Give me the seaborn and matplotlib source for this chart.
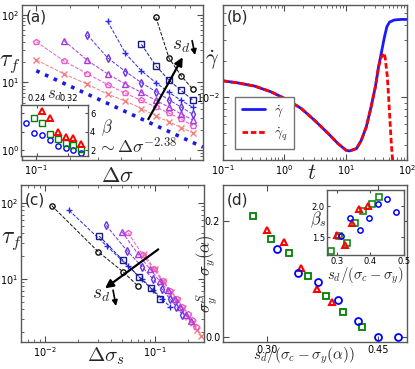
import numpy as np
import pandas as pd
import seaborn as sns
import matplotlib.pyplot as plt
from matplotlib.ticker import MultipleLocator, FormatStrFormatter, NullFormatter

# ---------------- data ----------------
# (a) stress distance from yield, and failure time for each s_d
dsigma = [0.10, 0.12, 0.14, 0.16, 0.18, 0.20, 0.22, 0.24, 0.26, 0.28]

tau_x = [21.5, 13.4, 9.4, 6.7, 5.3, 4.1, 3.2, 2.6, 2.15, 1.8]
tau_pent = [40.0, 20.8, 13.4, 9.3, 6.9, 5.4, 4.3, 3.5, 2.85, 2.3]
tau_tri = [41.6, 21.2, 13.4, 9.4, 7.1, 5.4, 4.3, 3.4, 2.8]
tau_diam = [50.5, 23.1, 14.5, 9.9, 7.3, 5.5, 4.3, 3.4]
tau_plus = [80.0, 26.9, 14.8, 9.9, 7.1, 5.4, 4.3]
tau_sq = [36.6, 17.6, 10.7, 7.6, 5.5]
tau_circ = [92.0, 22.7, 12.5, 8.0]

# (c) same failure times against distance to sigma_y^S
dss_x = [0.079, 0.099, 0.119, 0.139, 0.159, 0.179, 0.199, 0.219, 0.239, 0.259]
dss_pent = [0.057, 0.077, 0.097, 0.117, 0.137, 0.157, 0.177, 0.197, 0.217, 0.237]
dss_tri = [0.050, 0.070, 0.090, 0.110, 0.130, 0.150, 0.170, 0.190, 0.210]
dss_diam = [0.036, 0.056, 0.076, 0.096, 0.116, 0.136, 0.156, 0.176]
dss_plus = [0.0165, 0.0365, 0.0565, 0.0765, 0.0965, 0.1165, 0.1365]
dss_sq = [0.031, 0.051, 0.071, 0.091, 0.111]
dss_circ = [0.0115, 0.0305, 0.0508, 0.0704]

series_markers = ['x', 'p', '^', 'd', '+', 's', 'o']
series_colors = ['#f57f7f', '#ee5ac8', '#a83ae0', '#6a32e6', '#2828f0', '#1c1c88', '#111111']
taus = [tau_x, tau_pent, tau_tri, tau_diam, tau_plus, tau_sq, tau_circ]
dss = [dss_x, dss_pent, dss_tri, dss_diam, dss_plus, dss_sq, dss_circ]

# power law guide
fit_dsigma = [0.100, 0.30]
fit_tau = [14.9, 1.10]

# (a) inset: beta vs s_d
ins_sd_circ = [0.213, 0.233, 0.253, 0.273, 0.293, 0.313, 0.333, 0.353]
ins_beta_circ = [5.0, 3.9, 3.7, 3.1, 2.5, 2.25, 2.0, 1.75]
ins_sd_sq = [0.233, 0.253, 0.273, 0.293, 0.313, 0.333, 0.353]
ins_beta_sq = [5.55, 4.95, 3.8, 3.25, 2.85, 2.55, 2.15]
ins_sd_tri = [0.253, 0.273, 0.293, 0.313, 0.333, 0.353]
ins_beta_tri = [6.25, 5.45, 4.0, 3.5, 3.3, 2.7]

# (b) strain rate vs time
t_vals = [0.1, 0.175, 0.33, 0.61, 1.07, 1.89, 3.1, 5.2, 7.5, 10.2, 11.6, 15, 18,
          21.7, 26, 30.5, 34.4, 38, 43, 47, 52, 62, 80, 100]
gdot = [0.01368, 0.01315, 0.01236, 0.01107, 0.00962, 0.00805, 0.00643, 0.00498,
        0.00411, 0.00361, 0.00357, 0.00373, 0.00438, 0.00566, 0.00830, 0.01219,
        0.0179, 0.0231, 0.0319, 0.0386, 0.0422, 0.0439, 0.0444, 0.0444]
t_q = [0.1, 0.175, 0.33, 0.61, 1.07, 1.89, 3.1, 5.2, 7.5, 10.2, 11.6, 15, 18,
       21.7, 26, 30.5, 34.4, 38, 41, 42.2, 44, 47.8, 50.5, 53.5, 55.5, 57.7, 60]
gdot_q = [0.01368, 0.01315, 0.01236, 0.01107, 0.00962, 0.00805, 0.00643, 0.00498,
          0.00411, 0.00361, 0.00357, 0.00373, 0.00438, 0.00566, 0.00830, 0.01219,
          0.0179, 0.0215, 0.0226, 0.0233, 0.0215, 0.0148, 0.00944, 0.00566,
          0.00411, 0.00318, 0.0025]

# (d) sigma_y^S - sigma_y vs normalised s_d
d_x_sq = [0.2815, 0.3054, 0.3301, 0.355, 0.3793, 0.4031, 0.428]
d_y_sq = [0.209, 0.169, 0.144, 0.105, 0.071, 0.043, 0.0175]
d_x_tri = [0.3004, 0.323, 0.3459, 0.3672, 0.3882]
d_y_tri = [0.184, 0.163, 0.119, 0.0825, 0.060]
d_x_circ = [0.3131, 0.3415, 0.3685, 0.3955, 0.4234, 0.4504, 0.4774]
d_y_circ = [0.152, 0.1095, 0.095, 0.064, 0.027, 0.0, 0.0]

# (d) inset: beta_s
din_x_sq = [0.283, 0.306, 0.330, 0.355, 0.379, 0.405, 0.426]
din_b_sq = [1.28, 1.52, 1.40, 1.73, 1.92, 2.03, 2.15]
din_x_tri = [0.300, 0.325, 0.345, 0.367, 0.392]
din_b_tri = [1.54, 1.37, 1.73, 1.95, 2.00]
din_x_circ = [0.313, 0.340, 0.370, 0.395, 0.424, 0.451, 0.477]
din_b_circ = [1.52, 1.80, 1.61, 1.80, 2.04, 2.12, 1.91]

# ---------------- style ----------------
sns.set_style("ticks")
plt.rcParams.update({
    'font.family': ['DejaVu Sans'],
    'mathtext.fontset': 'cm',
    'xtick.direction': 'in', 'ytick.direction': 'in',
    'xtick.top': True, 'ytick.right': True,
    'xtick.major.size': 4, 'ytick.major.size': 4,
    'xtick.minor.size': 2, 'ytick.minor.size': 2,
    'xtick.color': '0.3', 'ytick.color': '0.3',
    'xtick.labelcolor': 'black', 'ytick.labelcolor': 'black',
    'axes.edgecolor': '0.35', 'axes.linewidth': 1.0,
    'xtick.labelsize': 7, 'ytick.labelsize': 7,
    'xtick.major.pad': 2.5, 'ytick.major.pad': 2,
})


def pts(ax, x, y, color, marker, ls='--', ms=3.8, mew=1.0, lw=0.7, fill=False):
    sns.lineplot(x=x, y=y, ax=ax, color=color, marker=marker, linestyle=ls,
                 lw=lw, markersize=ms, mec=color, mew=mew,
                 mfc=color if fill else 'none')


def log_axes(ax):
    ax.set_xscale('log')
    ax.set_yscale('log')
    ax.xaxis.set_minor_formatter(NullFormatter())
    ax.yaxis.set_minor_formatter(NullFormatter())


fig = plt.figure(figsize=(4.15, 3.69), dpi=100)
ax_a = fig.add_axes([0.053, 0.5664, 0.4361, 0.42])
ax_b = fig.add_axes([0.5373, 0.5664, 0.4434, 0.42])
ax_c = fig.add_axes([0.0506, 0.0732, 0.441, 0.4255])
ax_d = fig.add_axes([0.5373, 0.0732, 0.4434, 0.4255])

# ---- (a) ----
log_axes(ax_a)
for tau, mk, col in zip(taus, series_markers, series_colors):
    pts(ax_a, dsigma[-len(tau):], tau, col, mk)
sns.lineplot(x=fit_dsigma, y=fit_tau, ax=ax_a, color='#1a1ae6', lw=2.6, linestyle=':')
ax_a.set_xlim(0.091, 0.30)
ax_a.set_ylim(0.71, 140)
ax_a.set_xlabel(r'$\Delta\sigma$', fontsize=16)
ax_a.xaxis.set_label_coords(0.53, -0.04)
ax_a.set_ylabel(r'$\tau_f$', fontsize=17, rotation=0, ha='center', va='center')
ax_a.yaxis.set_label_coords(-0.07, 0.626)
ax_a.text(0.022, 0.968, '(a)', transform=ax_a.transAxes, fontsize=11, ha='left', va='top')
ax_a.text(0.635, 0.085, r'$\sim\Delta\sigma^{-2.38}$', transform=ax_a.transAxes,
          fontsize=13, ha='center', va='center')
ax_a.annotate('', xy=(0.888, 0.663), xytext=(0.698, 0.263), xycoords='axes fraction',
              arrowprops=dict(arrowstyle='-|>', color='k', lw=1.6, mutation_scale=12,
                              shrinkA=0, shrinkB=0))
ax_a.text(0.881, 0.742, r'$s_d$', transform=ax_a.transAxes, fontsize=14,
          ha='center', va='center')
ax_a.annotate('', xy=(0.956, 0.677), xytext=(0.940, 0.77), xycoords='axes fraction',
              arrowprops=dict(arrowstyle='-|>', color='k', lw=1.2, mutation_scale=8,
                              shrinkA=0, shrinkB=0))

# inset of (a)
ax_ia = fig.add_axes([0.0506, 0.5772, 0.1614, 0.1382])
pts(ax_ia, ins_sd_circ, ins_beta_circ, 'blue', 'o', ls='none', ms=3.8, mew=1.0)
pts(ax_ia, ins_sd_sq, ins_beta_sq, 'green', 's', ls='none', ms=3.8, mew=1.0)
pts(ax_ia, ins_sd_tri, ins_beta_tri, 'red', '^', ls='none', ms=3.8, mew=1.4)
ax_ia.set_xlim(0.20, 0.37)
ax_ia.set_ylim(1.4, 6.9)
ax_ia.xaxis.set_major_locator(MultipleLocator(0.08))
ax_ia.xaxis.set_major_formatter(FormatStrFormatter('%.2f'))
ax_ia.yaxis.set_major_locator(MultipleLocator(2))
ax_ia.tick_params(labelsize=6, length=2.5, top=True, bottom=True, labeltop=True,
                  labelbottom=False, left=True, right=True, labelleft=False,
                  labelright=True, pad=1.5)
ax_ia.xaxis.set_label_position('top')
ax_ia.yaxis.set_label_position('right')
ax_ia.set_xlabel(r'$s_d$', fontsize=12, labelpad=-3)
ax_ia.set_ylabel(r'$\beta$', fontsize=12, rotation=0, ha='center', va='center')
ax_ia.yaxis.set_label_coords(1.28, 0.55)

# ---- (b) ----
log_axes(ax_b)
sns.lineplot(x=t_vals, y=gdot, ax=ax_b, color='#1a1aff', lw=2.0, label=r'$\dot{\gamma}$')
sns.lineplot(x=t_q, y=gdot_q, ax=ax_b, color='red', lw=2.0, linestyle=(0, (2, 1)),
             label=r'$\dot{\gamma}_q$')
ax_b.set_xlim(0.1, 100)
ax_b.set_ylim(0.003, 0.0585)
ax_b.set_xlabel(r'$t$', fontsize=16)
ax_b.xaxis.set_label_coords(0.484, -0.02)
ax_b.set_ylabel(r'$\dot{\gamma}$', fontsize=16, rotation=0, ha='center', va='center')
ax_b.yaxis.set_label_coords(-0.06, 0.645)
ax_b.text(0.022, 0.968, '(b)', transform=ax_b.transAxes, fontsize=11, ha='left', va='top')
ax_b.legend(loc='lower left', bbox_to_anchor=(0.03, 0.025), fontsize=10, frameon=True,
            fancybox=False, edgecolor='0.45', framealpha=1, handlelength=1.7,
            borderpad=0.45, labelspacing=0.45, handletextpad=0.6)

# ---- (c) ----
log_axes(ax_c)
for tau, d, mk, col in zip(taus, dss, series_markers, series_colors):
    pts(ax_c, d, tau, col, mk)
ax_c.set_xlim(0.00605, 0.278)
ax_c.set_ylim(1.48, 172)
ax_c.set_xlabel(r'$\Delta\sigma_s$', fontsize=15)
ax_c.xaxis.set_label_coords(0.464, -0.02)
ax_c.set_ylabel(r'$\tau_f$', fontsize=17, rotation=0, ha='center', va='center')
ax_c.yaxis.set_label_coords(-0.05, 0.65)
ax_c.text(0.022, 0.955, '(c)', transform=ax_c.transAxes, fontsize=11, ha='left', va='top')
ax_c.annotate('', xy=(0.459, 0.342), xytext=(0.750, 0.590), xycoords='axes fraction',
              arrowprops=dict(arrowstyle='-|>', color='k', lw=1.6, mutation_scale=12,
                              shrinkA=0, shrinkB=0))
ax_c.text(0.44, 0.30, r'$s_d$', transform=ax_c.transAxes, fontsize=14,
          ha='center', va='center')
ax_c.annotate('', xy=(0.519, 0.229), xytext=(0.503, 0.33), xycoords='axes fraction',
              arrowprops=dict(arrowstyle='-|>', color='k', lw=1.2, mutation_scale=8,
                              shrinkA=0, shrinkB=0))

# ---- (d) ----
pts(ax_d, d_x_sq, d_y_sq, 'green', 's', ls='none', ms=5, mew=1.3)
pts(ax_d, d_x_tri, d_y_tri, 'red', '^', ls='none', ms=5, mew=1.5)
pts(ax_d, d_x_circ, d_y_circ, 'blue', 'o', ls='none', ms=5, mew=1.3)
ax_d.set_xlim(0.2405, 0.489)
ax_d.set_ylim(-0.0086, 0.262)
ax_d.xaxis.set_major_locator(MultipleLocator(0.15))
ax_d.xaxis.set_major_formatter(FormatStrFormatter('%.2f'))
ax_d.yaxis.set_major_locator(MultipleLocator(0.2))
ax_d.yaxis.set_major_formatter(FormatStrFormatter('%.1f'))
ax_d.set_xlabel(r'$s_d/(\sigma_c-\sigma_y(\alpha))$', fontsize=11)
ax_d.xaxis.set_label_coords(0.44, -0.025)
ax_d.set_ylabel(r'$\sigma_y^S-\sigma_y(\alpha)$', fontsize=12)
ax_d.yaxis.set_label_coords(-0.02, 0.43)
ax_d.text(0.022, 0.955, '(d)', transform=ax_d.transAxes, fontsize=11, ha='left', va='top')

# inset of (d)
ax_id = fig.add_axes([0.788, 0.309, 0.1855, 0.176])
pts(ax_id, din_x_sq, din_b_sq, 'green', 's', ls='none', ms=3.8, mew=1.1)
pts(ax_id, din_x_tri, din_b_tri, 'red', '^', ls='none', ms=3.8, mew=1.4)
pts(ax_id, din_x_circ, din_b_circ, 'blue', 'o', ls='none', ms=3.8, mew=1.1)
ax_id.set_xlim(0.271, 0.501)
ax_id.set_ylim(1.21, 2.258)
ax_id.xaxis.set_major_locator(MultipleLocator(0.1))
ax_id.xaxis.set_major_formatter(FormatStrFormatter('%.1f'))
ax_id.yaxis.set_major_locator(MultipleLocator(0.5))
ax_id.yaxis.set_major_formatter(FormatStrFormatter('%.1f'))
ax_id.tick_params(labelsize=6, length=2.5, pad=1.5)
ax_id.set_xlabel(r'$s_d/(\sigma_c-\sigma_y)$', fontsize=10.5, labelpad=0)
ax_id.set_ylabel(r'$\beta_s$', fontsize=12, rotation=0, ha='center', va='center')
ax_id.yaxis.set_label_coords(-0.11, 0.55)

fig.savefig('out.png', dpi=100)
